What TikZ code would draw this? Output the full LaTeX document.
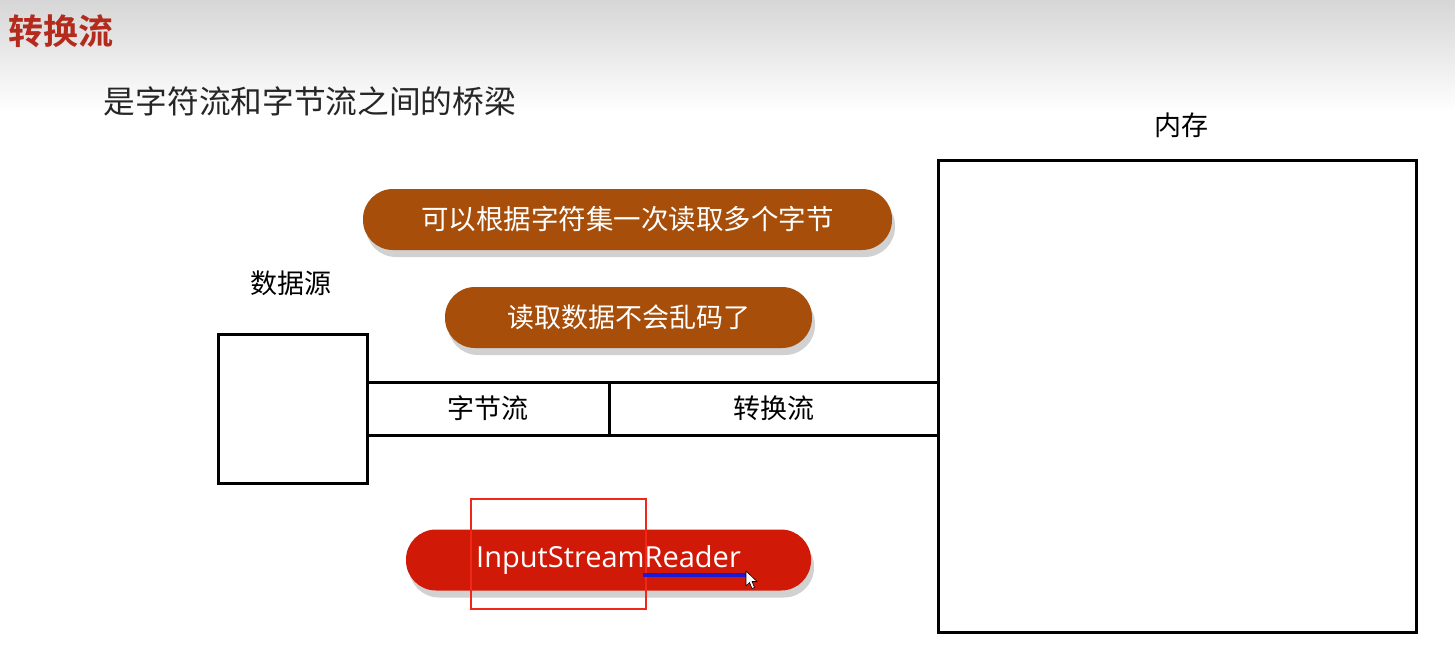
\documentclass[tikz,border=0pt]{standalone}
\usepackage{fontspec}
\newfontfamily\cjk{Noto Sans CJK SC}
\newfontfamily\cjkbold{Noto Sans CJK SC Bold}
\newfontfamily\latinsans{Open Sans}
\usetikzlibrary{shadows}
\definecolor{titlered}{RGB}{180,42,28}
\definecolor{pillbrown}{RGB}{166,78,10}
\definecolor{pillred}{RGB}{209,25,8}
\definecolor{hlred}{RGB}{240,40,28}
\definecolor{ulblue}{RGB}{25,25,215}
\tikzset{
  box/.style={draw=black, line width=3pt, fill=white, inner sep=0pt},
  lbl/.style={font=\cjk\fontsize{27}{32}\selectfont, text=black, inner sep=0pt},
  pill/.style={rounded corners=30pt, inner sep=0pt, minimum height=61pt, text=white,
    drop shadow={shadow xshift=3pt, shadow yshift=-7pt, fill=black!18, opacity=1}},
}
\begin{document}
\begin{tikzpicture}[x=1pt, y=-1pt]
\useasboundingbox (0,0) rectangle (1455,661);
\fill[white] (0,0) rectangle (1455,661);
\shade[top color=black!16, bottom color=white] (0,0) rectangle (1455,112);

\node[font=\cjkbold\fontsize{35}{40}\selectfont, text=titlered, inner sep=0pt] (title) at (61,31) {转换流};
\node[font=\cjk\fontsize{31.7}{36}\selectfont, text=black!85, inner sep=0pt] (sub) at (310,101) {是字符流和字节流之间的桥梁};

\node[box, minimum width=478pt, minimum height=472pt] (mem) at (1177,396) {};
\node[lbl] (memlbl) at (1181,125) {内存};

\node[box, minimum width=149pt, minimum height=149pt] (src) at (292.5,408.5) {};
\node[lbl] (srclbl) at (291,283) {数据源};

\node[box, minimum width=242pt, minimum height=53pt, font=\cjk\fontsize{27}{32}\selectfont] (byte) at (488,408.5) {字节流};
\node[box, minimum width=329pt, minimum height=53pt, font=\cjk\fontsize{27}{32}\selectfont] (conv) at (773.5,408.5) {转换流};

\node[pill, fill=pillbrown, minimum width=529pt, font=\cjk\fontsize{27.5}{32}\selectfont] (p1) at (627.5,219.5) {可以根据字符集一次读取多个字节};
\node[pill, fill=pillbrown, minimum width=367pt, font=\cjk\fontsize{27}{32}\selectfont] (p2) at (628.5,317.5) {读取数据不会乱码了};
\node[pill, fill=pillred, minimum width=405pt, font=\latinsans\fontsize{29}{32}\selectfont] (p3) at (608.5,560) {InputStreamReader};

\draw[hlred, line width=2.5pt] (471,499) rectangle (646,609);
\coordinate (ulA) at (643,574.5);
\coordinate (ulB) at (746,574.5);
\draw[ulblue, line width=4pt] (ulA) -- (ulB);
\draw[black, line width=0.6pt, fill=white, line join=round]
  (746,571) -- (746,586) -- (749.5,582.5) -- (752,588.5) -- (754.5,587.5) -- (752,581.5) -- (757,581.5) -- cycle;
\end{tikzpicture}
\end{document}
